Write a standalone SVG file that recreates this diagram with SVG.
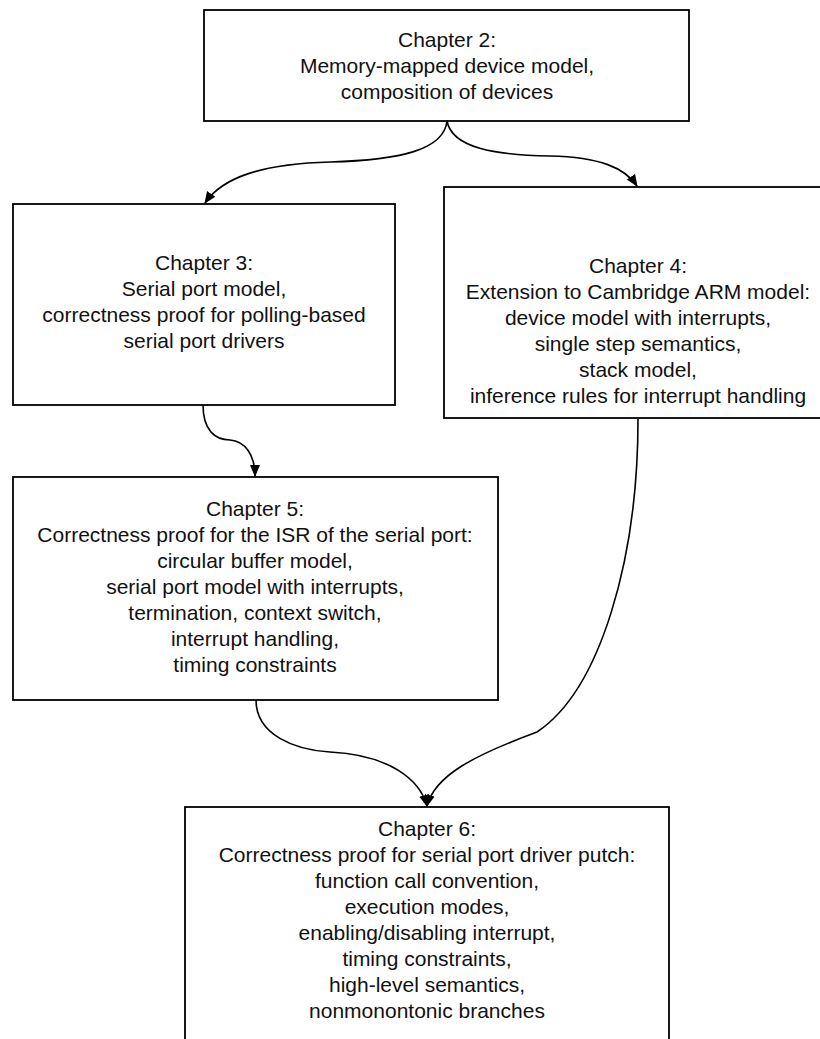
<svg xmlns="http://www.w3.org/2000/svg" width="820" height="1039" viewBox="0 0 820 1039">
<style>
.box{fill:#fff;stroke:#000;stroke-width:1.8}
.t{font-family:"Liberation Sans",Arial,sans-serif;font-size:21px;fill:#111;text-anchor:middle}
.c{fill:none;stroke:#000;stroke-width:1.6;marker-end:url(#ah)}
</style>
<defs>
<marker id="ah" viewBox="0 0 12 12" refX="11" refY="6" markerWidth="12" markerHeight="12" markerUnits="userSpaceOnUse" orient="auto">
<path d="M0,1 L12,6 L0,11 Z" fill="#000"/>
</marker>
</defs>
<rect width="820" height="1039" fill="#fff"/>
<g id="ch2">
<rect class="box" x="204" y="10" width="485" height="111"/>
<text class="t" x="447" y="47">Chapter 2:</text>
<text class="t" x="447" y="73">Memory-mapped device model,</text>
<text class="t" x="447" y="99">composition of devices</text>
</g>
<g id="ch3">
<rect class="box" x="13" y="204" width="382" height="201"/>
<text class="t" x="204" y="270">Chapter 3:</text>
<text class="t" x="204" y="296">Serial port model,</text>
<text class="t" x="204" y="322">correctness proof for polling-based</text>
<text class="t" x="204" y="348">serial port drivers</text>
</g>
<g id="ch4">
<rect class="box" x="444" y="187" width="390" height="231"/>
<text class="t" x="638" y="273">Chapter 4:</text>
<text class="t" x="638" y="299">Extension to Cambridge ARM model:</text>
<text class="t" x="638" y="325">device model with interrupts,</text>
<text class="t" x="638" y="351">single step semantics,</text>
<text class="t" x="638" y="377">stack model,</text>
<text class="t" x="638" y="403">inference rules for interrupt handling</text>
</g>
<g id="ch5">
<rect class="box" x="13" y="477" width="485" height="223"/>
<text class="t" x="255" y="516">Chapter 5:</text>
<text class="t" x="255" y="542">Correctness proof for the ISR of the serial port:</text>
<text class="t" x="255" y="568">circular buffer model,</text>
<text class="t" x="255" y="594">serial port model with interrupts,</text>
<text class="t" x="255" y="620">termination, context switch,</text>
<text class="t" x="255" y="646">interrupt handling,</text>
<text class="t" x="255" y="672">timing constraints</text>
</g>
<g id="ch6">
<rect class="box" x="185" y="807" width="484" height="260"/>
<text class="t" x="427" y="836">Chapter 6:</text>
<text class="t" x="427" y="862">Correctness proof for serial port driver putch:</text>
<text class="t" x="427" y="888">function call convention,</text>
<text class="t" x="427" y="914">execution modes,</text>
<text class="t" x="427" y="940">enabling/disabling interrupt,</text>
<text class="t" x="427" y="966">timing constraints,</text>
<text class="t" x="427" y="992">high-level semantics,</text>
<text class="t" x="427" y="1018">nonmonontonic branches</text>
</g>
<g id="connectors">
<path class="c" d="M447,121 C444,150 400,160 330,162 C260,164 222,178 205,203"/>
<path class="c" d="M447,121 C452,148 495,155 550,156 C600,157 625,168 637,186"/>
<path class="c" d="M203,405 C203,430 215,440 230,440 C245,441 255,455 255,476"/>
<path class="c" d="M256,700 C256,735 295,750 330,752 C390,755 420,780 427,806"/>
<path class="c" d="M638,419 C638,560 600,690 537,732 C475,755 435,775 427,806"/>
</g>
</svg>
